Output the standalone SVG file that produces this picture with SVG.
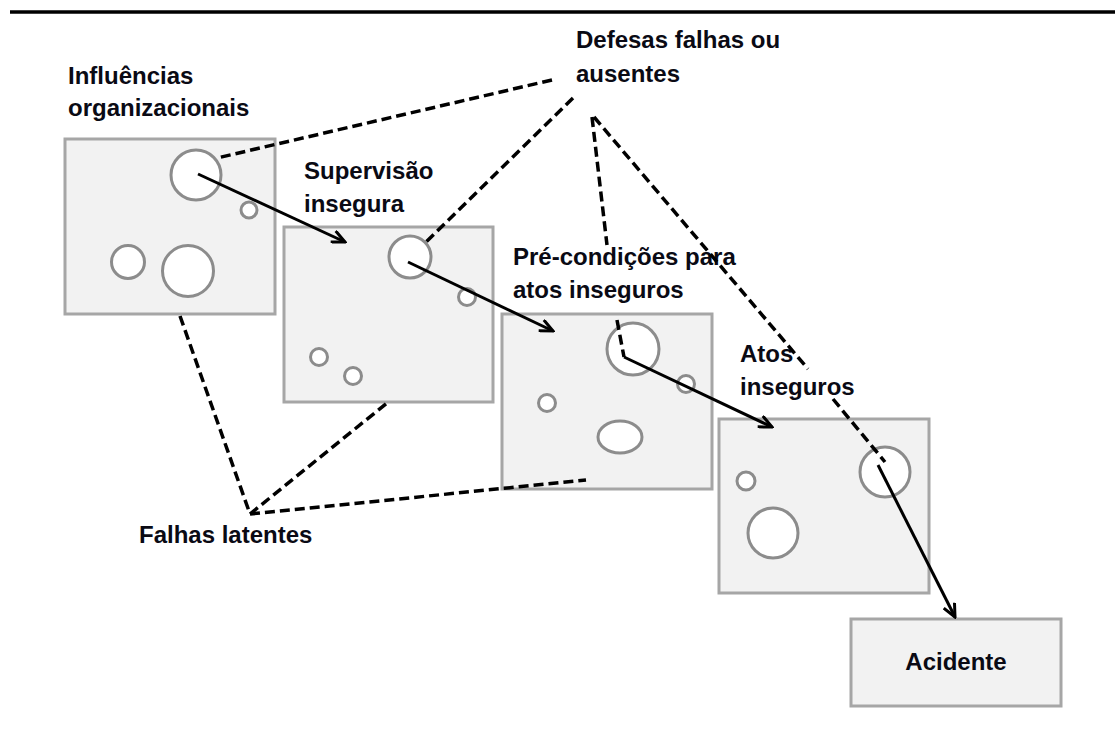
<svg xmlns="http://www.w3.org/2000/svg" width="1117" height="730" viewBox="0 0 1117 730">
<defs>
<style>
.box{fill:#f2f2f2;stroke:#a6a6a6;stroke-width:3}
.hole{fill:#ffffff;stroke:#8c8c8c;stroke-width:3}
.dash{fill:none;stroke:#000;stroke-width:3.5;stroke-dasharray:10 5}
.arr{fill:none;stroke:#000;stroke-width:3;marker-end:url(#ah)}
.lbl{font-family:"Liberation Sans",Arial,sans-serif;font-weight:bold;font-size:24px;fill:#0a0a14}
</style>
<marker id="ah" viewBox="0 0 16 14" refX="14" refY="7" markerWidth="16" markerHeight="14" markerUnits="userSpaceOnUse" orient="auto">
<path d="M1,1 L14,7 L1,13" fill="none" stroke="#000" stroke-width="3"/>
</marker>
</defs>
<rect width="1117" height="730" fill="#ffffff"/>
<line x1="10" y1="12" x2="1115" y2="12" stroke="#000" stroke-width="3.5"/>

<g id="n-influencias">
<rect class="box" x="65" y="139" width="210" height="175"/>
<circle class="hole" cx="196" cy="175" r="25"/>
<circle class="hole" cx="249" cy="210" r="8"/>
<circle class="hole" cx="128" cy="262" r="16.5"/>
<circle class="hole" cx="188" cy="271" r="25.5"/>
<text class="lbl" x="68" y="84">Influências</text>
<text class="lbl" x="68" y="116">organizacionais</text>
</g>

<g id="n-supervisao">
<rect class="box" x="284" y="227" width="209" height="175"/>
<circle class="hole" cx="410" cy="257" r="21"/>
<circle class="hole" cx="467" cy="297" r="8.5"/>
<circle class="hole" cx="319" cy="357" r="8.5"/>
<circle class="hole" cx="353" cy="376" r="8.5"/>
<text class="lbl" x="304" y="179">Supervisão</text>
<text class="lbl" x="304" y="212">insegura</text>
</g>

<g id="n-precondicoes">
<rect class="box" x="502" y="314" width="210" height="175"/>
<circle class="hole" cx="633" cy="349" r="26"/>
<circle class="hole" cx="686" cy="384" r="8.5"/>
<circle class="hole" cx="547" cy="403" r="8.5"/>
<ellipse class="hole" cx="620" cy="437" rx="22" ry="16"/>
<text class="lbl" x="513" y="265">Pré-condições para</text>
<text class="lbl" x="513" y="298">atos inseguros</text>
</g>

<g id="n-atos">
<rect class="box" x="719" y="419" width="210" height="174"/>
<circle class="hole" cx="885" cy="472" r="25"/>
<circle class="hole" cx="746" cy="481" r="9"/>
<circle class="hole" cx="773" cy="533" r="25"/>
<text class="lbl" x="740" y="362">Atos</text>
<text class="lbl" x="740" y="395">inseguros</text>
</g>

<g id="n-acidente">
<rect class="box" x="851" y="619" width="210" height="87"/>
<text class="lbl" x="956" y="670" text-anchor="middle">Acidente</text>
</g>

<g id="n-defesas">
<text class="lbl" x="576" y="48">Defesas falhas ou</text>
<text class="lbl" x="576" y="82">ausentes</text>
</g>

<g id="n-falhas">
<text class="lbl" x="139" y="543">Falhas latentes</text>
</g>

<g id="connectors">
<line class="dash" x1="552" y1="80" x2="217" y2="158"/>
<line class="dash" x1="573" y1="98" x2="425" y2="243"/>
<line class="dash" x1="592" y1="117" x2="607" y2="245"/>
<line class="dash" x1="617" y1="320" x2="624" y2="357"/>
<line class="dash" x1="594" y1="117" x2="808" y2="369"/>
<line class="dash" x1="833" y1="399" x2="885" y2="462"/>
<line class="dash" x1="180" y1="316" x2="250" y2="514"/>
<line class="dash" x1="250" y1="514" x2="387" y2="403"/>
<line class="dash" x1="250" y1="514" x2="586" y2="480"/>
<line class="arr" x1="198" y1="174" x2="345" y2="242"/>
<line class="arr" x1="408" y1="262" x2="553" y2="331"/>
<line class="arr" x1="624" y1="357" x2="772" y2="427"/>
<line class="arr" x1="878" y1="465" x2="955" y2="617"/>
</g>
</svg>
